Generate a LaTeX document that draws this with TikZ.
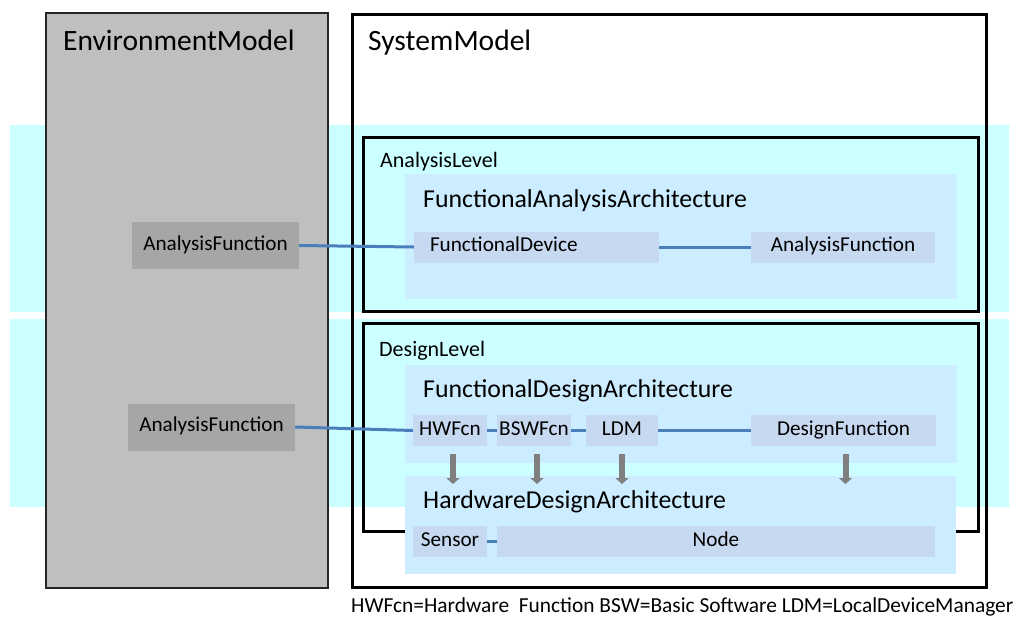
\documentclass[tikz,border=0pt]{standalone}
\usepackage{fontspec}
\setmainfont{Carlito}
\usetikzlibrary{arrows.meta}

\definecolor{bandcyan}{HTML}{CCFFFF}
\definecolor{envgrey}{HTML}{BFBFBF}
\definecolor{envbox}{HTML}{A6A6A6}
\definecolor{archblue}{HTML}{CCECFF}
\definecolor{elemblue}{HTML}{C6D9F1}
\definecolor{linkblue}{HTML}{4A7EBB}
\definecolor{arrowgrey}{HTML}{7F7F7F}

\tikzset{
  title/.style={anchor=base west, inner sep=0pt},
  big/.style={font=\fontsize{29.5}{32}\selectfont},
  level/.style={font=\fontsize{22}{24}\selectfont},
  arch/.style={font=\fontsize{25.8}{28}\selectfont},
  elem/.style={fill=elemblue, inner xsep=1pt, inner ysep=0pt, minimum height=31pt,
    text height=14pt, text depth=5pt, font=\fontsize{21.2}{23}\selectfont},
  envelem/.style={elem, fill=envbox, minimum width=167pt, minimum height=47pt},
  link/.style={draw=linkblue, line width=3pt},
  maparrow/.style={draw=arrowgrey, line width=6pt, -{Triangle[length=6pt,width=13pt]}, shorten <=8pt},
}

\begin{document}
\begin{tikzpicture}[x=1pt,y=-1pt]
\useasboundingbox (0,0) rectangle (1019,616);

% level bands
\fill[bandcyan] (10,125) rectangle (1009,312);
\fill[bandcyan] (10,319) rectangle (1009,507);

% environment model
\draw[fill=envgrey, draw=black!85, line width=1.5pt] (46,13) rectangle (328,588);
\node[title, big] (envtitle) at (63,50.5) {EnvironmentModel};
\node[envelem] (envfcnA) at (215.5,245.5) {AnalysisFunction};
\node[envelem] (envfcnB) at (211.5,427) {AnalysisFunction};

% system model
\draw[black, line width=3pt] (352,14) rectangle (986,587);
\node[title, big] (systitle) at (368,50.5) {SystemModel};

\draw[black, line width=3pt] (363,137) rectangle (978,311);
\node[title, level] (analysislevel) at (380,167) {AnalysisLevel};
\draw[black, line width=3pt] (363,323) rectangle (978,531);
\node[title, level] (designlevel) at (379,356) {DesignLevel};

\fill[archblue] (405,174) rectangle (957,299);
\node[title, arch] (faa) at (423,207) {FunctionalAnalysisArchitecture};
\fill[archblue] (405,365) rectangle (957,463);
\node[title, arch] (fda) at (423,397) {FunctionalDesignArchitecture};
\fill[archblue] (405,476) rectangle (956,574);
\node[title, arch] (hda) at (423,508) {HardwareDesignArchitecture};

% elements
\node[elem, text width=213pt, inner xsep=16pt, align=left] (fdevice) at (536.5,247) {FunctionalDevice};
\node[elem, minimum width=184pt] (anafcn) at (843,247) {AnalysisFunction};

\node[elem, minimum width=74pt] (hwfcn) at (450,430.5) {HWFcn};
\node[elem, minimum width=74pt] (bswfcn) at (534,430.5) {BSWFcn};
\node[elem, minimum width=72pt] (ldm) at (622,430.5) {LDM};
\node[elem, minimum width=185pt] (desfcn) at (843.5,430.5) {DesignFunction};

\node[elem, minimum width=74pt] (sensor) at (450,541.5) {Sensor};
\node[elem, minimum width=438pt] (hwnode) at (716,541.5) {Node};

% connectors
\draw[link] (envfcnA.east) -- (fdevice.west);
\draw[link] (fdevice.east) -- (anafcn.west);
\draw[link] (envfcnB.east) -- (hwfcn.west);
\draw[link] (hwfcn.east) -- (bswfcn.west);
\draw[link] (bswfcn.east) -- (ldm.west);
\draw[link] (ldm.east) -- (desfcn.west);
\draw[link] (sensor.east) -- (hwnode.west);

% allocation arrows
\coordinate (hdatip) at (0,484);
\draw[maparrow] ([xshift=3pt]hwfcn.south) -- ([xshift=3pt]hwfcn.south |- hdatip);
\draw[maparrow] ([xshift=3pt]bswfcn.south) -- ([xshift=3pt]bswfcn.south |- hdatip);
\draw[maparrow] (ldm.south) -- (ldm.south |- hdatip);
\draw[maparrow] ([xshift=2pt]desfcn.south) -- ([xshift=2pt]desfcn.south |- hdatip);

\node[title, font=\fontsize{21.4}{23}\selectfont] (legend) at (351,612)
  {HWFcn=Hardware\ \ Function BSW=Basic Software LDM=LocalDeviceManager};

\end{tikzpicture}
\end{document}
